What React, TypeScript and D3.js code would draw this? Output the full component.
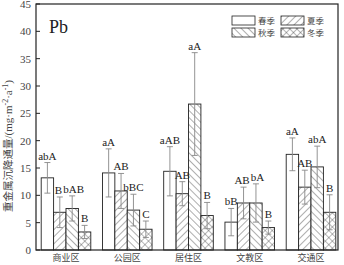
import React from "react";
import * as d3 from "d3";

const categories = ["商业区", "公园区", "居住区", "文教区", "交通区"];
const seasons = ["春季", "夏季", "秋季", "冬季"];
const springVals = [13.2, 14.1, 14.4, 5.1, 17.5];
const summerVals = [6.9, 10.8, 10.3, 8.6, 11.5];
const autumnVals = [7.6, 7.3, 26.7, 8.6, 15.2];
const winterVals = [3.3, 3.8, 6.3, 4.1, 6.9];
const springErr = [2.8, 4.4, 4.5, 2.5, 3.0];
const summerErr = [2.8, 3.2, 2.2, 2.9, 3.1];
const autumnErr = [2.3, 2.9, 9.4, 3.5, 3.8];
const winterErr = [1.2, 1.5, 2.4, 1.2, 3.2];
const springLab = ["abA", "aA", "aAB", "bB", "aA"];
const summerLab = ["B", "AB", "AB", "AB", "AB"];
const autumnLab = ["bAB", "bBC", "aA", "bA", "abA"];
const winterLab = ["B", "C", "B", "B", "B"];
const yTicks = [0, 5, 10, 15, 20, 25, 30, 35, 40, 45];

const series = [
  { vals: springVals, err: springErr, lab: springLab, fill: "#fff" },
  { vals: summerVals, err: summerErr, lab: summerLab, fill: "url(#hSummer)" },
  { vals: autumnVals, err: autumnErr, lab: autumnLab, fill: "url(#hAutumn)" },
  { vals: winterVals, err: winterErr, lab: winterLab, fill: "url(#hWinter)" },
];

export default function App() {
  const W = 344, H = 265;
  const left = 36, right = 338, top = 4, bottom = 250;
  const y = d3.scaleLinear().domain([0, 45]).range([bottom, top]);
  const x = d3.scalePoint<string>().domain(categories).range([66, 311]);
  const bw = 12.4;
  const serif = "'Liberation Serif', 'DejaVu Serif', serif";
  const cjk = "'Noto Sans CJK SC', sans-serif";
  const nudge = (ci: number, si: number) =>
    ci === 0 || ci === 3 ? (si === 1 ? -1.5 : si === 2 ? 1.5 : 0) : 0;
  return (
    <svg width={W} height={H} style={{ position: "absolute", left: 0, top: 0, background: "#fff" }}>
      <defs>
        <pattern id="hSummer" patternUnits="userSpaceOnUse" width="5" height="5" patternTransform="rotate(45)">
          <rect width="5" height="5" fill="#fff" />
          <line x1="0" y1="0" x2="0" y2="5" stroke="#333" strokeWidth="0.8" />
        </pattern>
        <pattern id="hAutumn" patternUnits="userSpaceOnUse" width="5" height="5" patternTransform="rotate(-45)">
          <rect width="5" height="5" fill="#fff" />
          <line x1="0" y1="0" x2="0" y2="5" stroke="#333" strokeWidth="0.8" />
        </pattern>
        <pattern id="hWinter" patternUnits="userSpaceOnUse" width="5" height="5" patternTransform="rotate(45)">
          <rect width="5" height="5" fill="#fff" />
          <line x1="0" y1="0" x2="0" y2="5" stroke="#333" strokeWidth="0.7" />
          <line x1="0" y1="0" x2="5" y2="0" stroke="#333" strokeWidth="0.7" />
        </pattern>
      </defs>
      {/* bars */}
      {categories.map((c, ci) =>
        series.map((s, si) => {
          const x0 = (x(c) as number) - 2 * bw + si * bw;
          const v = s.vals[ci];
          const e = s.err[ci];
          const cx = x0 + bw / 2;
          return (
            <g key={c + si}>
              <rect x={x0} y={y(v)} width={bw} height={bottom - y(v)} fill={s.fill} stroke="#222" strokeWidth={0.9} />
              <line x1={cx} x2={cx} y1={y(v + e)} y2={y(v - e)} stroke="#888" strokeWidth={0.9} />
              <line x1={cx - 3} x2={cx + 3} y1={y(v + e)} y2={y(v + e)} stroke="#888" strokeWidth={0.9} />
              <line x1={cx - 3} x2={cx + 3} y1={y(v - e)} y2={y(v - e)} stroke="#888" strokeWidth={0.9} />
            </g>
          );
        })
      )}
      {categories.map((c, ci) =>
        series.map((s, si) => {
          const x0 = (x(c) as number) - 2 * bw + si * bw;
          const v = s.vals[ci];
          const e = s.err[ci];
          const cx = x0 + bw / 2 + nudge(ci, si);
          return (
            <text key={"t" + c + si} x={cx} y={y(v + e) - 3} textAnchor="middle" fontFamily={serif} fontSize={11} fill="#222">
              {s.lab[ci]}
            </text>
          );
        })
      )}
      {/* frame */}
      <rect x={left} y={top} width={right - left} height={bottom - top} fill="none" stroke="#222" strokeWidth={1.2} />
      {/* y ticks */}
      {yTicks.map((t) => (
        <g key={t}>
          <line x1={left} x2={left + 4} y1={y(t)} y2={y(t)} stroke="#222" strokeWidth={1} />
          <text x={left - 5} y={y(t) + 4} textAnchor="end" fontFamily={serif} fontSize={11} fill="#444">
            {t}
          </text>
        </g>
      ))}
      {/* x labels */}
      {categories.map((c) => (
        <text key={c} x={x(c)} y={261} textAnchor="middle" fontFamily={cjk} fontSize={9} fill="#444">
          {c}
        </text>
      ))}
      {/* y label */}
      <text transform={`translate(12,${146}) rotate(-90)`} textAnchor="middle" fontSize={10.5} fill="#444">
        <tspan fontFamily={cjk}>重金属沉降通量</tspan>
        <tspan fontFamily={serif} fontSize={11}>/(mg·m</tspan>
        <tspan fontFamily={serif} fontSize={8} dy={-4}>-2</tspan>
        <tspan fontFamily={serif} fontSize={11} dy={4}>·a</tspan>
        <tspan fontFamily={serif} fontSize={8} dy={-4}>-1</tspan>
        <tspan fontFamily={serif} fontSize={11} dy={4}>)</tspan>
      </text>
      {/* Pb */}
      <text x={49} y={33} fontFamily={serif} fontSize={18} fill="#222">Pb</text>
      {/* legend */}
      {seasons.map((s, i) => {
        const lx = i % 2 === 0 ? 232 : 281;
        const ly = i < 2 ? 16 : 28;
        return (
          <g key={s}>
            <rect x={lx} y={ly} width={23} height={9} fill={series[i].fill} stroke="#222" strokeWidth={0.8} />
            <text x={lx + 26} y={ly + 8.3} fontFamily={cjk} fontSize={8.5} fill="#444">{s}</text>
          </g>
        );
      })}
    </svg>
  );
}
